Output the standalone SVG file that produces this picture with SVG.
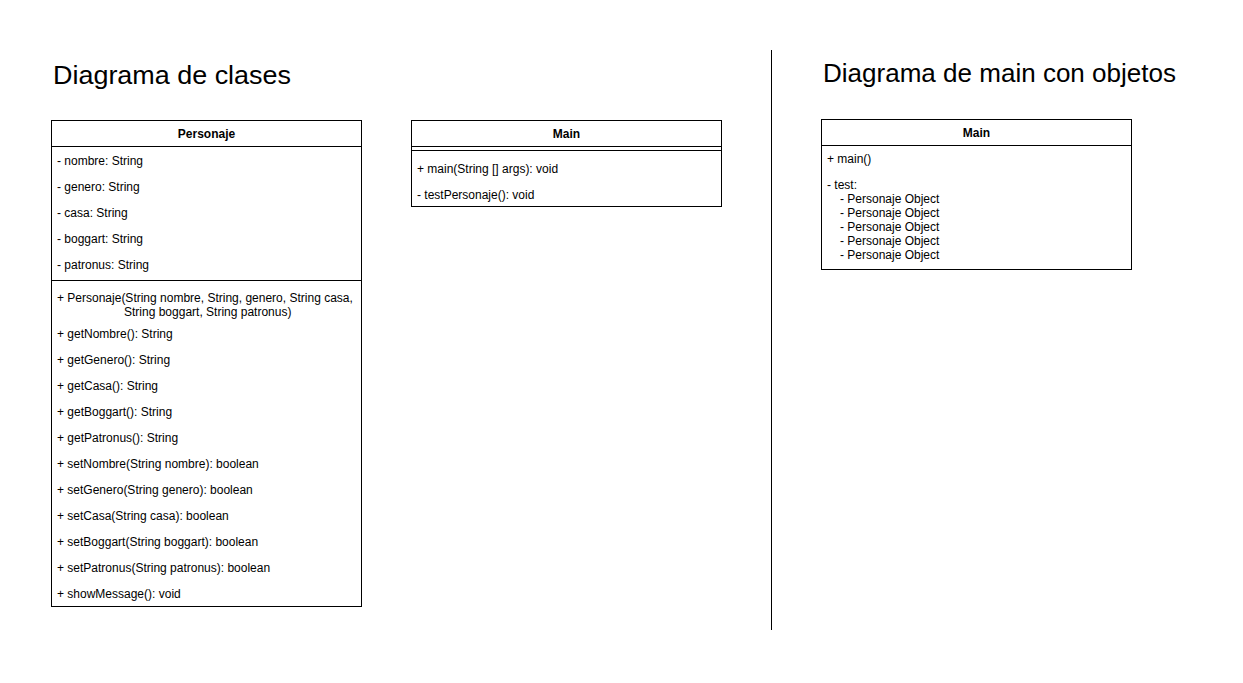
<svg xmlns="http://www.w3.org/2000/svg" width="1243" height="683" viewBox="0 0 1243 683">
<style>
.box{fill:#fff;stroke:#000;stroke-width:1}
.ln{stroke:#000;stroke-width:1;fill:none}
.t{font-family:"Liberation Sans",Arial,sans-serif;font-size:12px;fill:#000}
.h{font-family:"Liberation Sans",Arial,sans-serif;font-size:12px;font-weight:bold;fill:#000;text-anchor:middle}
.title{font-family:"Liberation Sans",Arial,sans-serif;font-size:26px;fill:#000}
</style>
<rect width="1243" height="683" fill="#fff"/>
<text class="title" x="53" y="84" textLength="238" lengthAdjust="spacingAndGlyphs">Diagrama de clases</text>
<text class="title" x="823" y="82" textLength="353" lengthAdjust="spacingAndGlyphs">Diagrama de main con objetos</text>
<g id="connectors">
<line class="ln" x1="771.5" y1="50" x2="771.5" y2="630"/>
</g>
<g id="personaje">
<rect class="box" x="51.5" y="120.5" width="310" height="486"/>
<line class="ln" x1="51.5" y1="146.5" x2="361.5" y2="146.5"/>
<line class="ln" x1="51.5" y1="280.5" x2="361.5" y2="280.5"/>
<text class="h" x="206.5" y="138">Personaje</text>
<text class="t" x="57" y="165">- nombre: String</text>
<text class="t" x="57" y="191">- genero: String</text>
<text class="t" x="57" y="217">- casa: String</text>
<text class="t" x="57" y="243">- boggart: String</text>
<text class="t" x="57" y="269">- patronus: String</text>
<text class="t" x="57" y="302">+ Personaje(String nombre, String, genero, String casa,</text>
<text class="t" x="124" y="316">String boggart, String patronus)</text>
<text class="t" x="57" y="338">+ getNombre(): String</text>
<text class="t" x="57" y="364">+ getGenero(): String</text>
<text class="t" x="57" y="390">+ getCasa(): String</text>
<text class="t" x="57" y="416">+ getBoggart(): String</text>
<text class="t" x="57" y="442">+ getPatronus(): String</text>
<text class="t" x="57" y="468">+ setNombre(String nombre): boolean</text>
<text class="t" x="57" y="494">+ setGenero(String genero): boolean</text>
<text class="t" x="57" y="520">+ setCasa(String casa): boolean</text>
<text class="t" x="57" y="546">+ setBoggart(String boggart): boolean</text>
<text class="t" x="57" y="572">+ setPatronus(String patronus): boolean</text>
<text class="t" x="57" y="598">+ showMessage(): void</text>
</g>
<g id="main">
<rect class="box" x="411.5" y="120.5" width="310" height="86"/>
<line class="ln" x1="411.5" y1="146.5" x2="721.5" y2="146.5"/>
<line class="ln" x1="411.5" y1="150.5" x2="721.5" y2="150.5"/>
<text class="h" x="566.5" y="138">Main</text>
<text class="t" x="417" y="173">+ main(String [] args): void</text>
<text class="t" x="417" y="199">- testPersonaje(): void</text>
</g>
<g id="main-objects">
<rect class="box" x="821.5" y="119.5" width="310" height="150"/>
<line class="ln" x1="821.5" y1="145.5" x2="1131.5" y2="145.5"/>
<text class="h" x="976.5" y="137">Main</text>
<text class="t" x="827" y="163">+ main()</text>
<text class="t" x="827" y="189">- test:</text>
<text class="t" x="840" y="203">- Personaje Object</text>
<text class="t" x="840" y="217">- Personaje Object</text>
<text class="t" x="840" y="231">- Personaje Object</text>
<text class="t" x="840" y="245">- Personaje Object</text>
<text class="t" x="840" y="259">- Personaje Object</text>
</g>
</svg>
